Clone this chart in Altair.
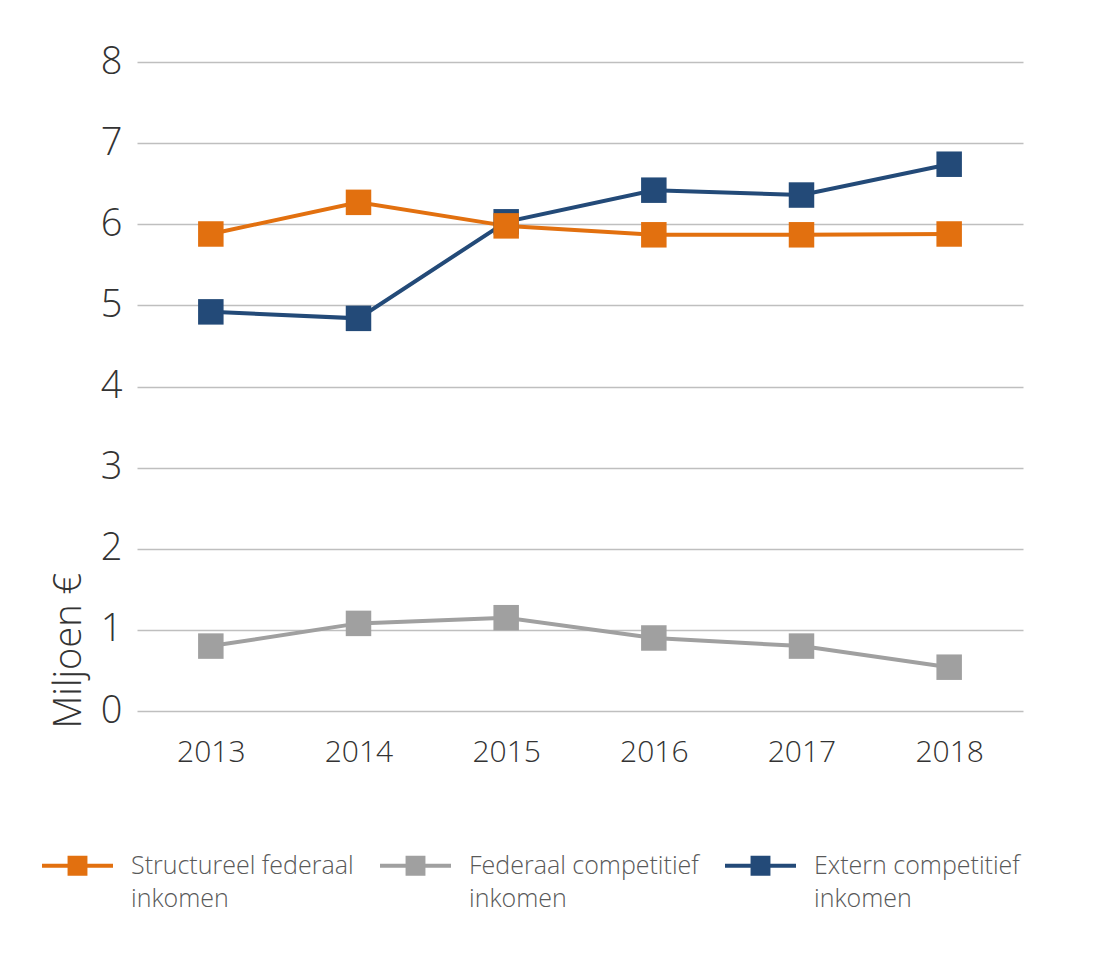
import altair as alt
import pandas as pd

years = ["2013", "2014", "2015", "2016", "2017", "2018"]
series_names = [
    "Structureel federaal|inkomen",
    "Federaal competitief|inkomen",
    "Extern competitief|inkomen",
]
structureel = [5.88, 6.27, 5.98, 5.87, 5.87, 5.88]
federaal = [0.80, 1.08, 1.15, 0.90, 0.80, 0.54]
extern = [4.92, 4.84, 6.03, 6.42, 6.36, 6.74]
colors = ["#E2700F", "#A0A0A0", "#234A78"]
draw_rank = [3, 1, 2]  # orange on top, grey at the bottom

rows = []
for name, vals, rank in zip(series_names, [structureel, federaal, extern], draw_rank):
    for y, v in zip(years, vals):
        rows.append({"jaar": y, "waarde": v, "reeks": name, "rank": rank})
df = pd.DataFrame(rows).sort_values(["rank", "jaar"]).reset_index(drop=True)

color_scale = alt.Scale(domain=series_names, range=colors)

# line with a square in the middle, used as legend symbol
legend_path = (
    "M-1,-0.056H1V0.056H-1Z "
    "M-0.28,-0.28H0.28V0.28H-0.28Z"
)


def make_legend():
    # stroke (lines) and fill (squares) legends merge into one
    return alt.Legend(
        orient="none",
        legendX=-95,
        legendY=768,
        direction="horizontal",
        symbolType=legend_path,
        symbolSize=5041,
        symbolStrokeWidth=0,
        symbolOpacity=1,
        labelExpr="split(datum.label, '|')",
        labelFontSize=25,
        labelFontWeight=300,
        labelColor="#595959",
        labelOffset=18,
        labelLimit=400,
        columnPadding=26,
    )


x_enc = alt.X(
    "jaar:N",
    sort=years,
    title=None,
    scale=alt.Scale(paddingOuter=0.5),
    axis=alt.Axis(
        labelAngle=0,
        labelFontSize=30,
        labelFontWeight=300,
        labelColor="#333333",
        labelPadding=26,
        ticks=False,
        domain=False,
        grid=False,
    ),
)
y_enc = alt.Y(
    "waarde:Q",
    title="Miljoen €",
    scale=alt.Scale(domain=[0, 8], nice=False),
    axis=alt.Axis(
        values=[0, 1, 2, 3, 4, 5, 6, 7, 8],
        labelFontSize=38,
        labelFontWeight=300,
        labelColor="#333333",
        labelPadding=15,
        ticks=False,
        domain=False,
        gridColor="#BFBFBF",
        gridWidth=1.5,
        titleFontSize=38,
        titleFontWeight=300,
        titleColor="#333333",
        titleAngle=270,
        titleAlign="left",
        titleBaseline="middle",
        titleX=-68,
        titleY=666,
    ),
)

lines = (
    alt.Chart(df)
    .mark_line(strokeWidth=4)
    .encode(
        x=x_enc,
        y=y_enc,
        stroke=alt.Stroke("reeks:N", scale=color_scale, title=None, legend=make_legend()),
        detail="reeks:N",
        order="rank:Q",
    )
)

points = (
    alt.Chart(df)
    .mark_square(size=650, opacity=1)
    .encode(
        x=x_enc,
        y=y_enc,
        fill=alt.Fill("reeks:N", scale=color_scale, title=None, legend=make_legend()),
        order="rank:Q",
    )
)

chart = (
    alt.layer(lines, points)
    .properties(
        width=886,
        height=649,
        autosize=alt.AutoSizeParams(type="none"),
        padding={"left": 137, "top": 62, "right": 77, "bottom": 252},
    )
    .configure(font="Open Sans", style={"guide-label": {"lineHeight": 33}})
    .configure_view(stroke=None)
)

chart.save("out.html", embed_options={"renderer": "svg", "actions": False})
